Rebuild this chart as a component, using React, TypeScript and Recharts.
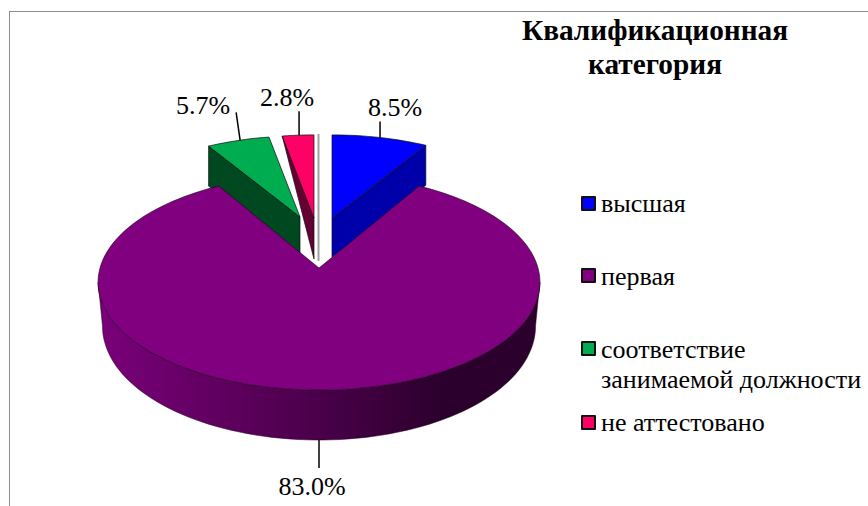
import { Legend, Pie, PieChart } from 'recharts'

const CATEGORIES = ['высшая', 'первая', 'соответствие занимаемой должности', 'не аттестовано']
const VALUES = [8.5, 83.0, 5.7, 2.8]
const COLORS = ['#0000ff', '#800080', '#00ac50', '#ff0066']
const SIDE_COLORS = ['#0000aa', 'url(#mainSide)', '#004820', '#660033']

const FONT = '"Liberation Serif", serif'
const CX = 319
const CY = 268
const MAIN = 1 // the large slice, drawn last so it sits over the others

// Excel-style exploded 3D look: each slice's apex offset, size and the depth of its visible wall
const EXPLODE = [
    { x: 13, y: -50, scale: 1, rimDepth: 40, apexDepth: 39, edge: 'end' },
    { x: 0, y: 0, scale: 1, rimDepth: 0, apexDepth: 0, edge: 'end' },
    { x: -19, y: -51, scale: 0.975, rimDepth: 40, apexDepth: 37, edge: 'start' },
    { x: -5, y: -50, scale: 1, rimDepth: 0, apexDepth: 41, edge: 'start' },
]
// leader start shift, line [dx, dy] and text centre relative to the leader's end
const LEADERS = [
    { sx: 0, dx: 0, dy: -16, tx: 15, ty: -14 },
    { sx: 0, dx: 0, dy: 28, tx: -7, ty: 18 },
    { sx: 2, dx: -4, dy: -28, tx: -33, ty: -7 },
    { sx: 1, dx: 0, dy: -24, tx: -12, ty: -14 },
]
const LEGEND_TOPS = [196, 268, 341, 415]
const LEGEND_TEXT_SHIFT = [-7, -6, -6, -7]

const rad = (deg: number) => (deg * Math.PI) / 180
const data = CATEGORIES.map((name, i) => ({ name, value: VALUES[i], fill: COLORS[i] }))

// perspective projection of a rim point; theta is clockwise from the top
function project(theta: number, rx: number, ry: number) {
    const u = Math.sin(rad(theta))
    const v = Math.cos(rad(theta))
    const w = 1 + 0.131 * v
    return { x: (rx * u) / w, y: (-ry * v) / w, w }
}

function rimPoint(i: number, theta: number, cx: number, cy: number) {
    const big = i === MAIN
    const s = EXPLODE[i].scale
    const p = project(theta, (big ? 219 : 205) * s, (big ? 106 : 94) * s)
    return { x: cx + EXPLODE[i].x + p.x, y: cy + EXPLODE[i].y + p.y, w: p.w }
}

function arc(i: number, from: number, to: number, cx: number, cy: number) {
    const pts = []
    const n = Math.max(2, Math.ceil(Math.abs(to - from) / 2))
    for (let k = 0; k <= n; k++) {
        pts.push(rimPoint(i, from + ((to - from) * k) / n, cx, cy))
    }
    return pts
}

const toPath = (pts: { x: number; y: number }[]) =>
    pts.map((p, k) => `${k ? 'L' : 'M'}${p.x.toFixed(1)} ${p.y.toFixed(1)}`).join(' ') + ' Z'

function SliceShape(props: any) {
    const { cx, cy, startAngle, endAngle, name, fill, layer } = props
    const i = CATEGORIES.indexOf(name)
    if ((layer === 'main') !== (i === MAIN)) return null

    const from = 90 - startAngle
    const to = 90 - endAngle
    const apex = { x: cx + EXPLODE[i].x, y: cy + EXPLODE[i].y }
    const rim = arc(i, from, to, cx, cy)
    const top = toPath([apex, ...rim])

    if (i === MAIN) {
        // the wall only shows between the two horizontal extremes of the rim
        const front = arc(i, 97.5, 262.5, cx, cy)
        const lower = [...front].reverse().map((p) => ({
            x: cx + (p.x - cx) * 0.98,
            y: p.y + 43.5 / p.w,
        }))
        return (
            <g>
                <defs>
                    <linearGradient id='mainSide' x1='0' y1='0' x2='1' y2='0'>
                        <stop offset='0%' stopColor='#7a007a' />
                        <stop offset='50%' stopColor='#4a004a' />
                        <stop offset='78%' stopColor='#2c002c' />
                        <stop offset='100%' stopColor='#2c002c' />
                    </linearGradient>
                </defs>
                <path d={toPath([...front, ...lower])} fill={SIDE_COLORS[i]} stroke='#1a001a' strokeWidth={0.5} />
                <path d={top} fill={fill} stroke='#200020' strokeWidth={0.6} />
            </g>
        )
    }

    const { rimDepth, apexDepth, edge } = EXPLODE[i]
    const corner = edge === 'end' ? rim[rim.length - 1] : rim[0]
    const wall = [corner, apex, { x: apex.x, y: apex.y + apexDepth }]
    if (rimDepth) wall.push({ x: corner.x, y: corner.y + rimDepth })

    return (
        <g>
            {i === 3 && (
                // hairline of the empty slice between the last slice and the first
                <line
                    x1={cx - 0.5}
                    x2={cx - 0.5}
                    y1={cy + EXPLODE[i].y - 84}
                    y2={cy + EXPLODE[i].y + 43}
                    stroke='#a0a0a0'
                    strokeWidth={2}
                />
            )}
            <path d={toPath(wall)} fill={SIDE_COLORS[i]} stroke='#101010' strokeWidth={0.7} />
            <path d={top} fill={fill} stroke='#101010' strokeWidth={0.7} />
        </g>
    )
}

function SliceLabel(props: any) {
    const { cx, cy, midAngle, percent, name } = props
    const i = CATEGORIES.indexOf(name)
    const start = rimPoint(i, 90 - midAngle, cx, cy)
    const l = LEADERS[i]
    const x0 = start.x + l.sx
    const y0 = i === MAIN ? start.y + 43.5 / start.w : start.y
    return (
        <g>
            <line x1={x0} y1={y0} x2={x0 + l.dx} y2={y0 + l.dy} stroke='#000' strokeWidth={1.5} />
            <text
                x={x0 + l.dx + l.tx}
                y={y0 + l.dy + l.ty}
                textAnchor='middle'
                dominantBaseline='central'
                fontFamily={FONT}
                fontSize={26}
                fill='#000'
            >
                {(percent * 100).toFixed(1)}%
            </text>
        </g>
    )
}

function LegendList({ payload }: any) {
    // both Pie layers report their items, keep each category once
    const items = CATEGORIES.map((name) => (payload ?? []).find((p: any) => p.value === name)).filter(Boolean)
    return (
        <div style={{ position: 'relative', fontFamily: FONT, fontSize: 26, color: '#000' }}>
            {items.map((item: any, i: number) => (
                <div key={item.value} style={{ position: 'absolute', left: 0, top: LEGEND_TOPS[i], width: 287 }}>
                    <span
                        style={{
                            position: 'absolute',
                            left: 0,
                            top: 0,
                            width: 11,
                            height: 11,
                            background: item.color,
                            border: '2px solid #111',
                            borderRadius: 1,
                        }}
                    />
                    <div style={{ position: 'absolute', left: 20, top: LEGEND_TEXT_SHIFT[i], width: 267, lineHeight: '30px' }}>
                        {item.value}
                    </div>
                </div>
            ))}
        </div>
    )
}

export default function App() {
    return (
        <div style={{ position: 'absolute', left: 0, top: 0, width: 868, height: 506, overflow: 'hidden', background: '#fff' }}>
            <div
                style={{
                    position: 'absolute',
                    left: 9,
                    top: 11,
                    width: 859,
                    height: 495,
                    borderTop: '1px solid #8c8c8c',
                    borderLeft: '1px solid #8c8c8c',
                }}
            />
            <div
                style={{
                    position: 'absolute',
                    left: 495,
                    top: 13,
                    width: 320,
                    textAlign: 'center',
                    fontFamily: FONT,
                    fontWeight: 'bold',
                    fontSize: 29.3,
                    lineHeight: '34px',
                    color: '#000',
                }}
            >
                Квалификационная
                <br />
                категория
            </div>
            <PieChart width={868} height={506} margin={{ top: 0, right: 0, bottom: 0, left: 0 }} style={{ position: 'absolute', left: 0, top: 0 }}>
                <Pie
                    data={data}
                    dataKey='value'
                    nameKey='name'
                    cx={CX}
                    cy={CY}
                    outerRadius={100}
                    startAngle={90}
                    endAngle={-270}
                    isAnimationActive={false}
                    label={SliceLabel}
                    labelLine={false}
                    shape={(p: any) => <SliceShape {...p} layer='back' />}
                />
                <Pie
                    data={data}
                    dataKey='value'
                    nameKey='name'
                    cx={CX}
                    cy={CY}
                    outerRadius={100}
                    startAngle={90}
                    endAngle={-270}
                    isAnimationActive={false}
                    legendType='none'
                    shape={(p: any) => <SliceShape {...p} layer='main' />}
                />
                <Legend
                    content={<LegendList />}
                    itemSorter={null}
                    wrapperStyle={{ position: 'absolute', left: 581, top: 0, bottom: 'auto', width: 287, height: 506 }}
                />
            </PieChart>
        </div>
    )
}
